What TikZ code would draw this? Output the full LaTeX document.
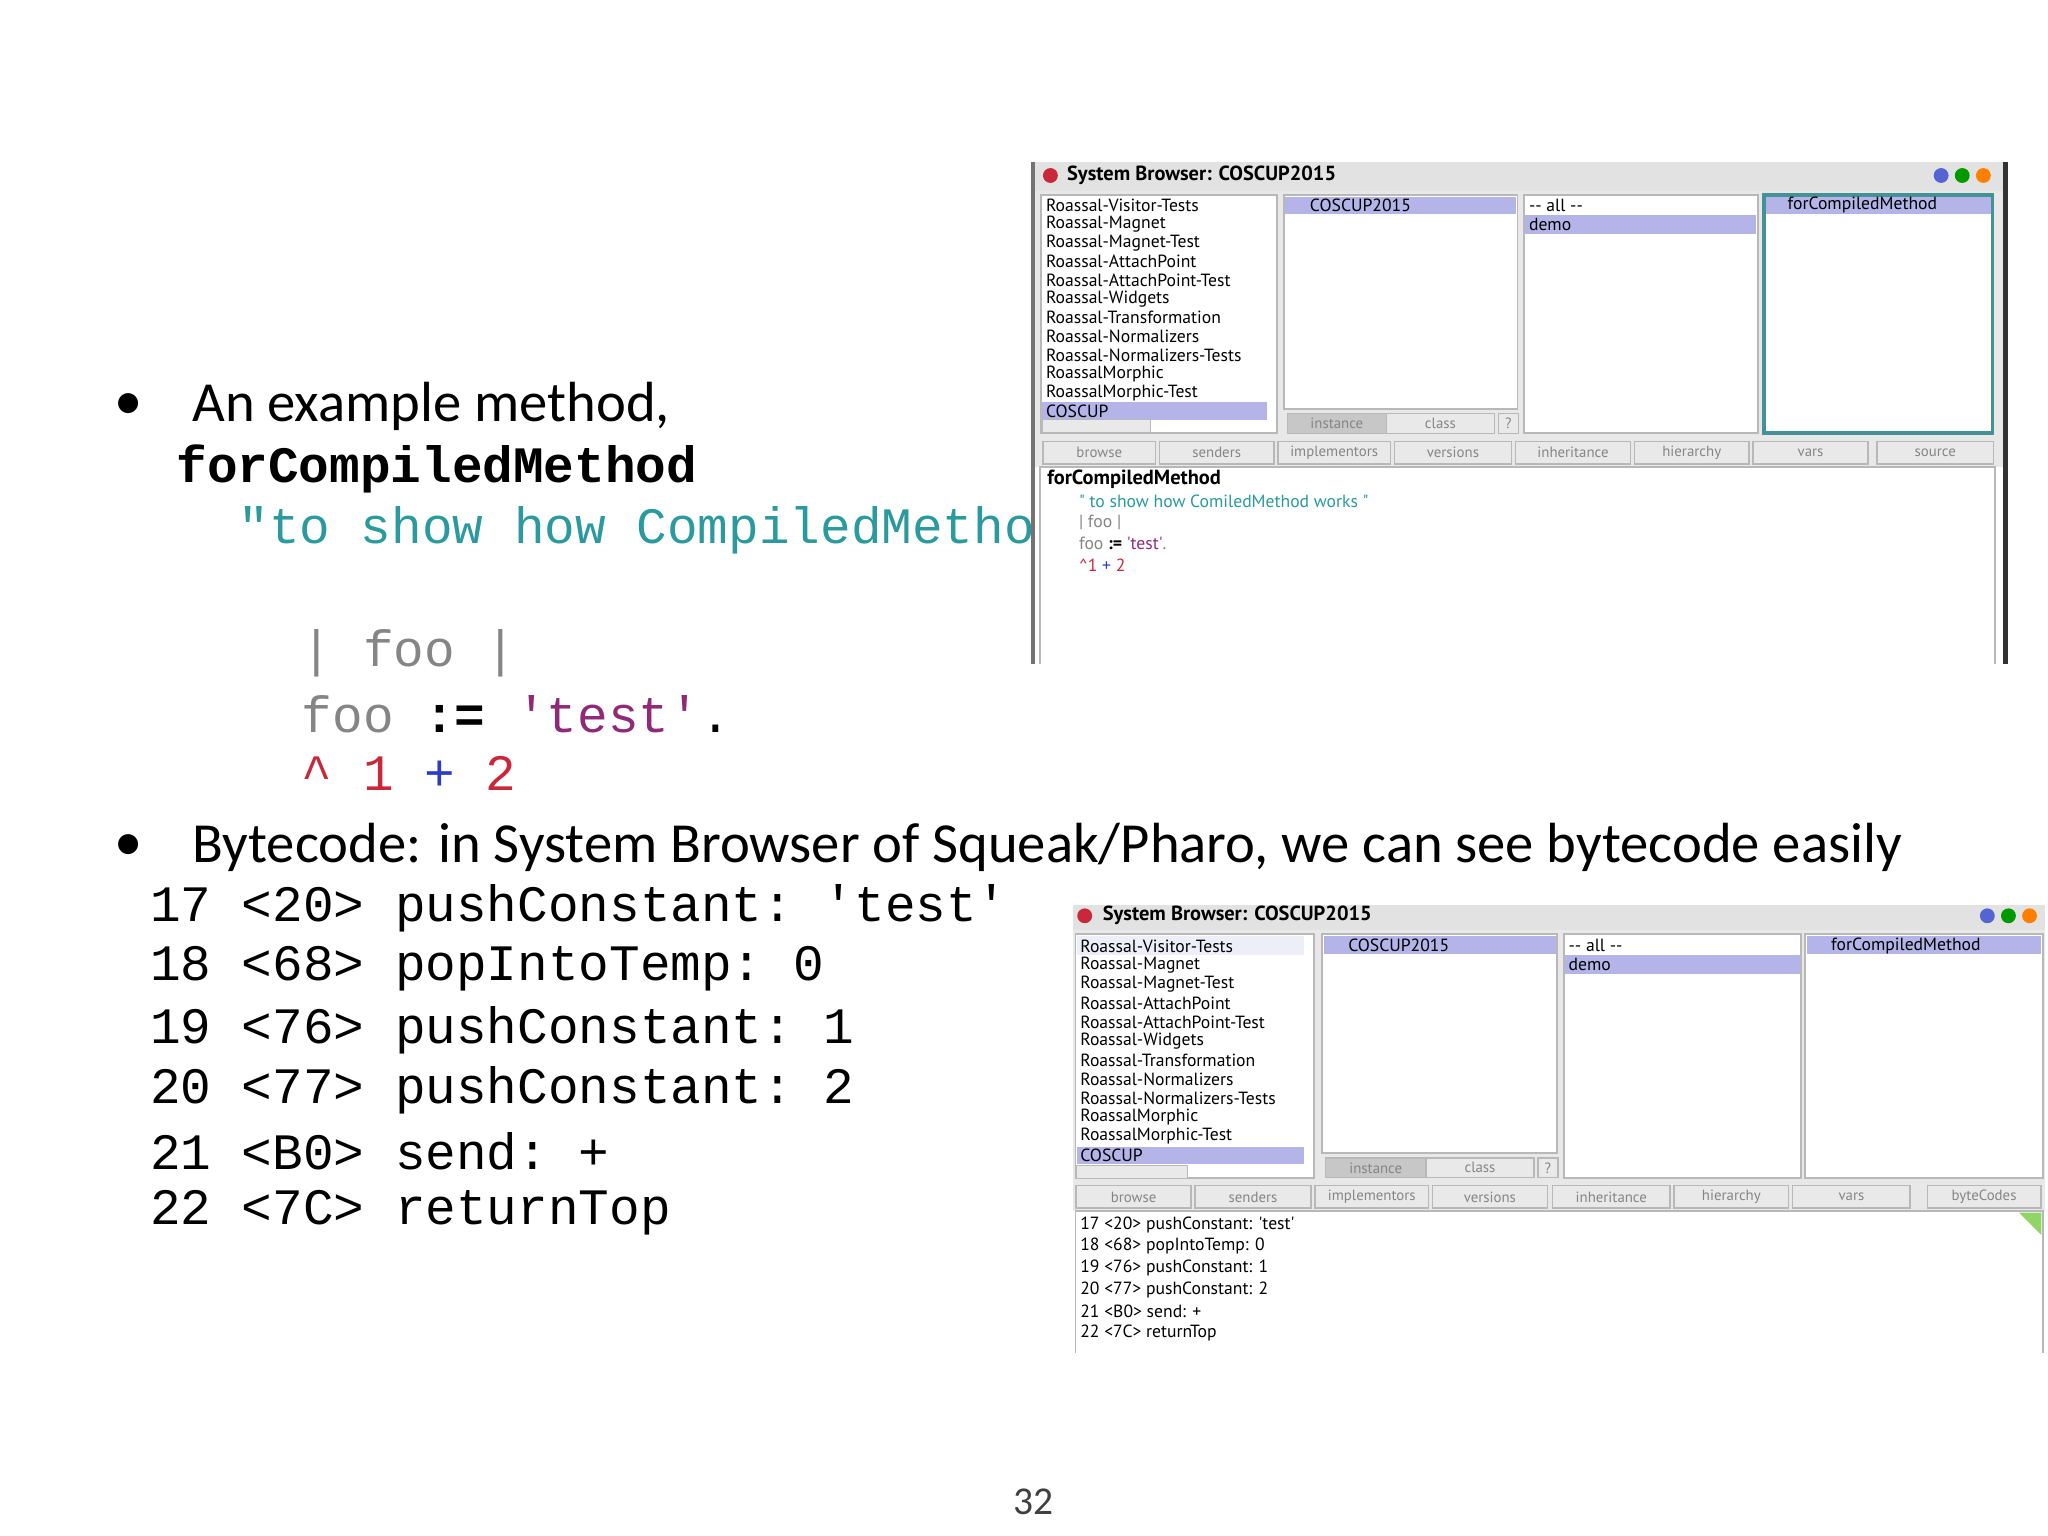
\documentclass[tikz,border=0pt]{standalone}
\usepackage{fontspec}
\setmainfont{Carlito}
\setmonofont{Liberation Mono}
\newfontfamily\uifont{PT Sans}
\definecolor{hl}{HTML}{B4B4E8}
\definecolor{hlite}{HTML}{EEEEF8}
\definecolor{tbar}{HTML}{E2E2E2}
\definecolor{pborder}{HTML}{B8B8B8}
\definecolor{btnfill}{HTML}{E9E9E9}
\definecolor{tealc}{HTML}{2A9A9E}
\definecolor{grayc}{HTML}{858585}
\definecolor{purpc}{HTML}{8E2A78}
\definecolor{redc}{HTML}{C8283A}
\definecolor{bluec}{HTML}{2A3CC8}
\tikzset{
  bullettext/.style={anchor=west,inner sep=0pt,font=\fontsize{12.2}{14}\selectfont},
  codetext/.style={anchor=west,inner sep=0pt,font=\ttfamily\fontsize{11}{13}\selectfont},
  item/.style={anchor=west,inner sep=0pt,font=\uifont\fontsize{3.8}{3.8}\selectfont},
  btn/.style={draw=pborder,fill=btnfill,line width=0.3pt,font=\uifont\fontsize{3.2}{3.2}\selectfont,text=grayc},
  pane/.style={draw=pborder,fill=white,line width=0.4pt},
  wtitle/.style={anchor=west,inner sep=0pt,font=\uifont\bfseries\fontsize{4.4}{5}\selectfont},
  dot/.style={circle,inner sep=0pt,minimum size=3.2pt}
}
\begin{document}
\begin{tikzpicture}[x=0.01cm,y=-0.01cm]
\useasboundingbox (0,0) rectangle (1552,1164);
\fill[white] (0,0) rectangle (1552,1164);
% ---- slide text
\node[bullettext] (b1) at (86,308) {•};
\node[bullettext] (t1) at (145,308) {An example method,};
\node[codetext,font=\ttfamily\bfseries\fontsize{11}{13}\selectfont] (fm) at (133,355) {forCompiledMethod};
\node[codetext,text=tealc] (cm) at (180,402) {"to show how CompiledMethod works"};
\node[codetext,text=grayc] (c1) at (228,495) {| foo |};
\node[codetext] (c2) at (228,541) {\textcolor{grayc}{foo} \textbf{:=} \textcolor{purpc}{'test'}.};
\node[codetext] (c3) at (228,586) {\textcolor{redc}{\textasciicircum{} 1} \textcolor{bluec}{+} \textcolor{redc}{2}};
\node[bullettext] (b2) at (86,642) {•};
\node[bullettext] (t2) at (145,642) {Bytecode: in System Browser of Squeak/Pharo, we can see bytecode easily};
\foreach \t [count=\i] in {{17 <20> pushConstant: 'test'},{18 <68> popIntoTemp: 0},{19 <76> pushConstant: 1},{20 <77> pushConstant: 2},{21 <B0> send: +},{22 <7C> returnTop}}
  \node[codetext] (bc\i) at (113,{688+(\i-1)*46.2}) {\t};
\node[inner sep=0pt,font=\fontsize{8.5}{10}\selectfont,text=black!75] (pg) at (783,1138) {32};
% ---- screenshot 1
\fill[white] (783,123) rectangle (1520,503);
\fill[tbar] (783,123) rectangle (1520,145);
\fill[tbar!80] (783,145) rectangle (1520,354);
\node[dot,fill=redc] (s1x) at (796,133) {};
\node[wtitle] (s1t) at (808,133) {System Browser: COSCUP2015};
\node[dot,fill=bluec!80] (s1a) at (1471,133) {};
\node[dot,fill=green!60!black] (s1b) at (1487,133) {};
\node[dot,fill=orange] (s1c) at (1503,133) {};
\draw[pane] (789,148) rectangle (968,328);
\fill[hl] (790,305) rectangle (960,318);
\draw[pborder,fill=btnfill,line width=0.3pt] (790,318) rectangle (872,328);
\foreach \t [count=\i] in {Roassal-Visitor-Tests,Roassal-Magnet,Roassal-Magnet-Test,Roassal-AttachPoint,Roassal-AttachPoint-Test,Roassal-Widgets,Roassal-Transformation,Roassal-Normalizers,Roassal-Normalizers-Tests,RoassalMorphic,RoassalMorphic-Test,COSCUP}
  \node[item] (s1p\i) at (792,{155.5+(\i-1)*14.2}) {\t};
\draw[pane] (973,148) rectangle (1150,310);
\fill[hl] (974,149) rectangle (1149,162);
\node[item] (s1c2) at (992,155.5) {COSCUP2015};
\node[btn,fill=black!22,anchor=north west,inner sep=0pt,minimum height=0.15cm,minimum width=0.75cm] (s1ins) at (975,313) {instance};
\node[btn,anchor=north west,inner sep=0pt,minimum height=0.15cm,minimum width=0.82cm] (s1cls) at (1050,313) {class};
\node[btn,anchor=north west,inner sep=0pt,minimum height=0.15cm,minimum width=0.15cm] (s1q) at (1135,313) {?};
\draw[pane] (1155,148) rectangle (1332,328);
\fill[hl] (1156,163) rectangle (1331,177);
\node[item] (s1all) at (1158,155.5) {-{}- all -{}-};
\node[item] (s1demo) at (1158,170) {demo};
\draw[pane,draw=tealc!70!gray,line width=0.8pt] (1337,148) rectangle (1510,328);
\fill[hl] (1338,149) rectangle (1509,162);
\node[item] (s1fm) at (1354,155.5) {forCompiledMethod};
\foreach \t/\a/\b [count=\i] in {browse/790/875,senders/878/965,implementors/968/1053,versions/1056/1145,inheritance/1148/1235,hierarchy/1238/1325,vars/1328/1415,source/1422/1510}
  \node[btn,anchor=north west,inner sep=0pt,minimum height=0.17cm,minimum width={(\b-\a)*0.01cm}] (s1b\i) at (\a,334) {\t};
\draw[pane] (788,354) rectangle (1512,510);
\node[item,font=\uifont\bfseries\fontsize{4.4}{5}\selectfont] (s1m) at (793,363) {forCompiledMethod};
\node[item,text=tealc] (s1k1) at (817,380) {" to show how ComiledMethod works "};
\node[item,text=grayc] (s1k2) at (817,396) {| foo |};
\node[item] (s1k3) at (817,412) {\textcolor{grayc}{foo} \textbf{:=} \textcolor{purpc}{'test'}\textcolor{grayc}{.}};
\node[item] (s1k4) at (817,428) {\textcolor{redc}{\textasciicircum 1} \textcolor{bluec}{+} \textcolor{redc}{2}};
\fill[white] (780,503) rectangle (1525,515);
\draw[black!55,line width=0.8pt] (783,123) -- (783,503);
\draw[black!80,line width=1pt] (1520,123) -- (1520,503);
% ---- screenshot 2
\fill[white] (813,686) rectangle (1550,1025);
\fill[tbar] (813,686) rectangle (1550,705);
\fill[tbar!80] (813,705) rectangle (1550,918);
\node[dot,fill=redc] (s2x) at (822,694) {};
\node[wtitle] (s2t) at (835,694) {System Browser: COSCUP2015};
\node[dot,fill=bluec!80] (s2a) at (1506,694) {};
\node[dot,fill=green!60!black] (s2b) at (1522,694) {};
\node[dot,fill=orange] (s2c) at (1538,694) {};
\draw[pane] (815,708) rectangle (996,893);
\fill[hlite] (816,709) rectangle (988,724);
\fill[hl] (816,869) rectangle (988,882);
\draw[pborder,fill=btnfill,line width=0.3pt] (816,883) rectangle (900,893);
\foreach \t [count=\i] in {Roassal-Visitor-Tests,Roassal-Magnet,Roassal-Magnet-Test,Roassal-AttachPoint,Roassal-AttachPoint-Test,Roassal-Widgets,Roassal-Transformation,Roassal-Normalizers,Roassal-Normalizers-Tests,RoassalMorphic,RoassalMorphic-Test,COSCUP}
  \node[item] (s2p\i) at (818,{717+(\i-1)*14.4}) {\t};
\draw[pane] (1002,708) rectangle (1180,874);
\fill[hl] (1003,709) rectangle (1179,723);
\node[item] (s2c2) at (1021,716.5) {COSCUP2015};
\node[btn,fill=black!22,anchor=north west,inner sep=0pt,minimum height=0.15cm,minimum width=0.76cm] (s2ins) at (1004,877) {instance};
\node[btn,anchor=north west,inner sep=0pt,minimum height=0.15cm,minimum width=0.82cm] (s2cls) at (1080,877) {class};
\node[btn,anchor=north west,inner sep=0pt,minimum height=0.15cm,minimum width=0.15cm] (s2q) at (1165,877) {?};
\draw[pane] (1185,708) rectangle (1365,893);
\fill[hl] (1186,724) rectangle (1364,738);
\node[item] (s2all) at (1188,716.5) {-{}- all -{}-};
\node[item] (s2demo) at (1188,731) {demo};
\draw[pane] (1368,708) rectangle (1548,893);
\fill[hl] (1369,709) rectangle (1547,723);
\node[item] (s2fm) at (1387,716.5) {forCompiledMethod};
\foreach \t/\a/\b [count=\i] in {browse/815/902,senders/905/993,implementors/996/1082,versions/1085/1172,inheritance/1176/1265,hierarchy/1268/1355,vars/1358/1447,byteCodes/1460/1546}
  \node[btn,anchor=north west,inner sep=0pt,minimum height=0.17cm,minimum width={(\b-\a)*0.01cm}] (s2b\i) at (\a,898) {\t};
\draw[pane] (815,918) rectangle (1548,1030);
\fill[green!45!olive!60] (1530,919) -- (1547,919) -- (1547,936) -- cycle;
\foreach \t [count=\i] in {{17 <20> pushConstant: 'test'},{18 <68> popIntoTemp: 0},{19 <76> pushConstant: 1},{20 <77> pushConstant: 2},{21 <B0> send: +},{22 <7C> returnTop}}
  \node[item] (s2l\i) at (818,{928+(\i-1)*16.4}) {\t};
\fill[white] (810,1025) rectangle (1552,1035);
\end{tikzpicture}
\end{document}
